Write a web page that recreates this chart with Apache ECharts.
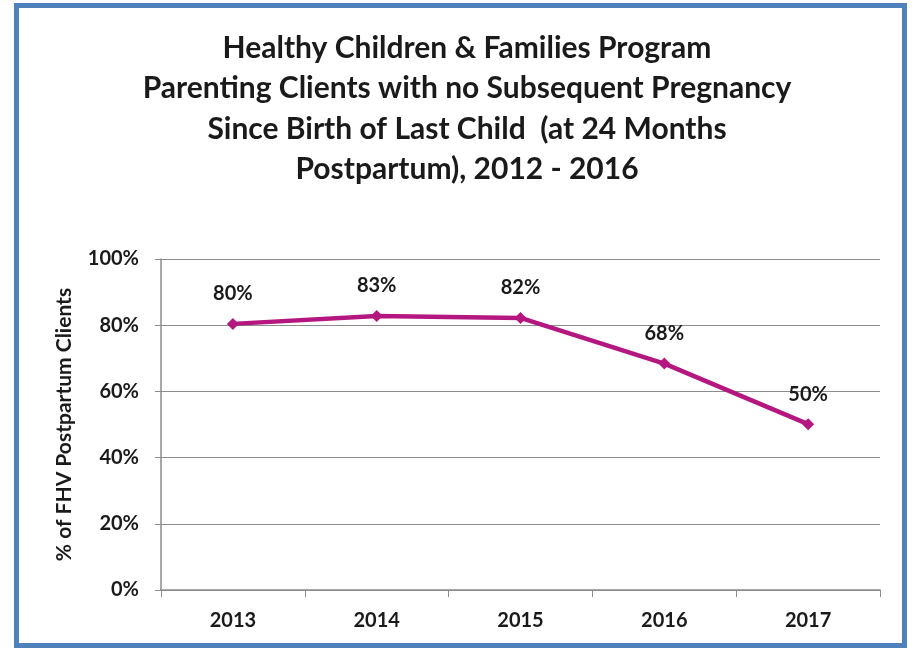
<!DOCTYPE html>
<html><head><meta charset="utf-8">
<script src="https://cdn.jsdelivr.net/npm/echarts@6/dist/echarts.min.js"></script>
<style>html,body{margin:0;padding:0;background:#fff}#c{width:913px;height:650px}</style>
</head><body><div id="c"></div>
<script>
const categories = ['2013', '2014', '2015', '2016', '2017'];
const values = [80.4, 82.8, 82.2, 68.4, 50.1];
const yTicks = [0, 20, 40, 60, 80, 100];
const titleText = 'Healthy Children & Families Program\nParenting Clients with no Subsequent Pregnancy\nSince Birth of Last Child  (at 24 Months\nPostpartum), 2012 - 2016';
const yName = '% of FHV Postpartum Clients';

const font = 'Lato, "Open Sans", sans-serif';
const chart = echarts.init(document.getElementById('c'));
chart.setOption({
  animation: false,
  backgroundColor: '#fff',
  graphic: [{
    type: 'rect', shape: {x: 16.5, y: 5.5, width: 888, height: 640},
    style: {fill: 'none', stroke: '#4F81BD', lineWidth: 5}, silent: true
  }],
  title: {
    text: titleText, left: 462, top: 23, textAlign: 'center',
    textStyle: {fontFamily: font, fontWeight: 'bold', fontSize: 30, lineHeight: 40.5, color: '#1a1a1a'}
  },
  grid: {left: 161, right: 33, top: 259, bottom: 60},
  xAxis: {
    type: 'category', data: categories, boundaryGap: true,
    axisLine: {lineStyle: {color: '#8c8c8c', width: 1.5}},
    axisTick: {show: true, length: 7, lineStyle: {color: '#8c8c8c'}},
    axisLabel: {fontFamily: font, fontWeight: 'bold', fontSize: 20, color: '#1a1a1a', margin: 21}
  },
  yAxis: {
    type: 'value', min: 0, max: 100, interval: 20,
    name: yName, nameLocation: 'middle', nameGap: 86, nameRotate: 90,
    nameTextStyle: {fontFamily: font, fontSize: 21, fontWeight: 'bold', color: '#1a1a1a'},
    axisLine: {show: true, lineStyle: {color: '#8c8c8c', width: 1.5}},
    axisTick: {show: true, length: 6, lineStyle: {color: '#8c8c8c'}},
    splitLine: {lineStyle: {color: '#8c8c8c', width: 1.2}},
    axisLabel: {fontFamily: font, fontWeight: 'bold', fontSize: 20, color: '#1a1a1a', margin: 22,
      formatter: v => yTicks.includes(v) ? v + '%' : ''}
  },
  series: [{
    type: 'line', data: values,
    lineStyle: {color: '#B4177F', width: 4.5},
    itemStyle: {color: '#B4177F'},
    symbol: 'diamond', symbolSize: 12, showAllSymbol: true,
    label: {show: true, position: 'top', distance: 14, fontFamily: font, fontWeight: 'bold', fontSize: 20, color: '#1a1a1a',
      formatter: p => Math.round(p.value) + '%'}
  }]
});
</script></body></html>
